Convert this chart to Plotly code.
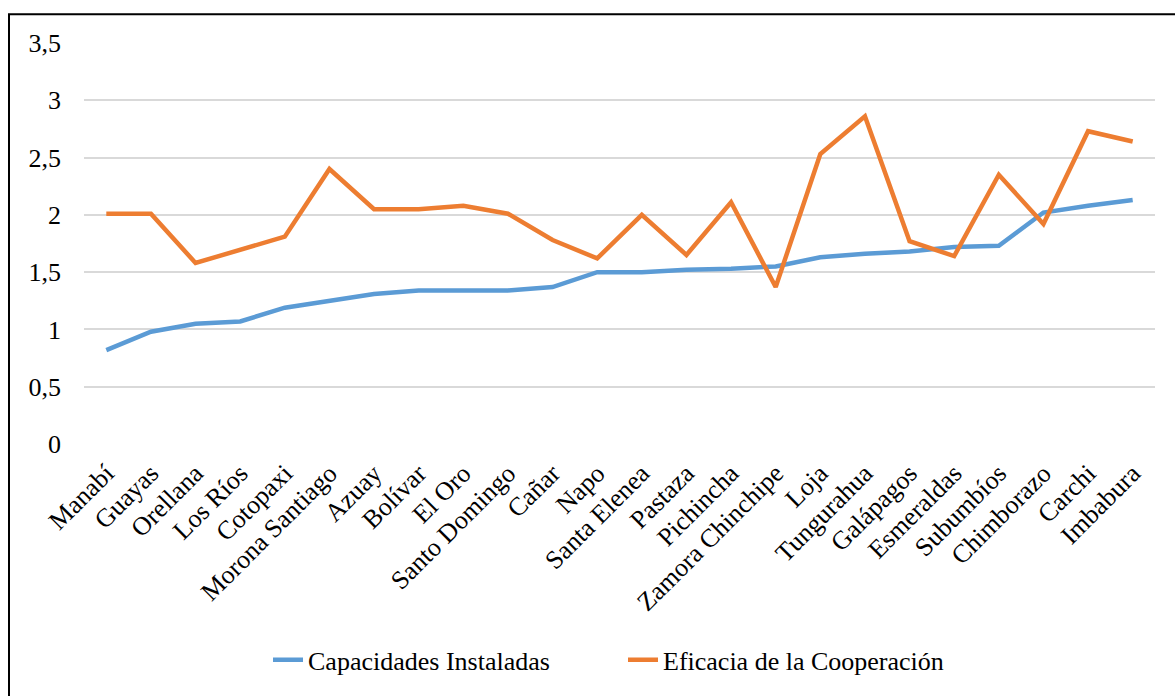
import plotly.graph_objects as go

categories = ["Manabí", "Guayas", "Orellana", "Los Ríos", "Cotopaxi", "Morona Santiago",
              "Azuay", "Bolívar", "El Oro", "Santo Domingo", "Cañar", "Napo",
              "Santa Elenea", "Pastaza", "Pichincha", "Zamora Chinchipe", "Loja",
              "Tungurahua", "Galápagos", "Esmeraldas", "Subumbíos", "Chimborazo",
              "Carchi", "Imbabura"]
capacidades = [0.82, 0.98, 1.05, 1.07, 1.19, 1.25, 1.31, 1.34, 1.34, 1.34, 1.37, 1.50,
               1.50, 1.52, 1.53, 1.55, 1.63, 1.66, 1.68, 1.72, 1.73, 2.02, 2.08, 2.13]
eficacia = [2.01, 2.01, 1.58, 1.69, 1.81, 2.40, 2.05, 2.05, 2.08, 2.01, 1.78, 1.62,
            2.00, 1.65, 2.11, 1.37, 2.53, 2.86, 1.77, 1.64, 2.35, 1.92, 2.73, 2.64]
y_ticks = [0, 0.5, 1, 1.5, 2, 2.5, 3, 3.5]

FONT = "Liberation Serif"
FS = 26

fig = go.Figure()
fig.add_trace(go.Scatter(x=categories, y=capacidades, mode="lines",
                         name="Capacidades Instaladas",
                         line=dict(color="#5B9BD5", width=4.5)))
fig.add_trace(go.Scatter(x=categories, y=eficacia, mode="lines",
                         name="Eficacia de la Cooperación",
                         line=dict(color="#ED7D31", width=4.5)))

L, R, T, B = 84, 20, 43, 250
W, H = 1175, 696
pw, ph = W - L - R, H - T - B

fig.update_layout(
    width=W, height=H,
    margin=dict(l=L, r=R, t=T, b=B),
    paper_bgcolor="white", plot_bgcolor="white",
    separators=", ",
    font=dict(family=FONT, size=FS, color="black"),
    showlegend=True,
    legend=dict(orientation="h", x=(268 - L) / pw, xanchor="left",
                y=(H - B - 663) / ph, yanchor="middle",
                font=dict(family=FONT, size=FS), itemwidth=30,
                entrywidth=310, entrywidthmode="pixels",
                traceorder="normal"),
    xaxis=dict(type="category", range=[-0.5, len(categories) - 0.5],
               tickangle=-45, showgrid=False, showline=False,
               ticks="", ticklabelstandoff=8,
               tickfont=dict(family=FONT, size=FS), zeroline=False),
    yaxis=dict(range=[0, 3.5], tickvals=y_ticks, showgrid=True,
               gridcolor="#D9D9D9", gridwidth=1.5, zeroline=False, showline=False,
               ticks="", ticklabelstandoff=22, tickfont=dict(family=FONT, size=FS)),
)

# outer border of the figure
fig.add_shape(type="rect", xref="paper", yref="paper",
              x0=(9 - L) / pw, x1=(W + 20 - L) / pw,
              y0=(H - B - (H + 20)) / ph, y1=(H - B - 14) / ph,
              line=dict(color="black", width=2), fillcolor="rgba(0,0,0,0)",
              layer="above")

fig.write_html("out.html")
